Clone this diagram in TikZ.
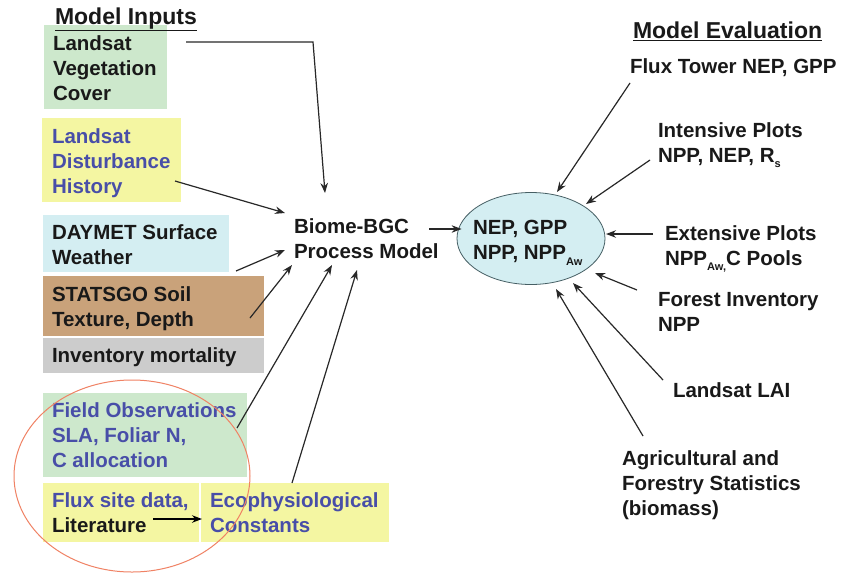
\documentclass[tikz,border=0pt]{standalone}
\usepackage{fontspec}
\setmainfont{Liberation Sans}
\usetikzlibrary{arrows.meta,calc,shapes.geometric}
\definecolor{bgreen}{RGB}{205,232,204}
\definecolor{byellow}{RGB}{244,246,162}
\definecolor{bblue}{RGB}{212,238,242}
\definecolor{bbrown}{RGB}{201,162,122}
\definecolor{bgray}{RGB}{204,204,204}
\definecolor{tblue}{RGB}{72,78,168}
\definecolor{tblack}{RGB}{25,25,25}
\definecolor{ered}{RGB}{240,130,100}
\definecolor{eline}{RGB}{70,95,100}
\definecolor{aline}{RGB}{40,40,40}
\newcommand\sbs[1]{\raisebox{-0.28em}{\fontsize{11}{11}\selectfont #1}}
\begin{document}
\begin{tikzpicture}[x=1pt,y=-1pt,
  box/.style={draw=none, anchor=north west, inner sep=0, outer sep=0},
  txt/.style={anchor=north west, inner sep=0, outer sep=0, align=left,
    font=\fontsize{20.5}{25}\selectfont\bfseries, text=tblack},
  btxt/.style={txt, text=tblue},
  ttl/.style={txt, font=\fontsize{23}{27}\selectfont\bfseries},
  arr/.style={draw=aline, line width=1.2pt, -{Stealth[length=10pt,width=7.5pt]}}]
\useasboundingbox (0,0) rectangle (842,573);
\fill[white] (0,0) rectangle (842,573);

% input boxes
\node[box, fill=bgreen, minimum width=123, minimum height=84] (b1) at (44,25) {};
\node[box, fill=byellow, minimum width=139, minimum height=84] (b2) at (42,118) {};
\node[box, fill=bblue, minimum width=186, minimum height=57] (b3) at (43,215) {};
\node[box, fill=bbrown, minimum width=221, minimum height=60] (b4) at (43,276) {};
\node[box, fill=bgray, minimum width=221, minimum height=35] (b5) at (43,338) {};
\node[box, fill=bgreen, minimum width=204, minimum height=84] (b6) at (43,393) {};
\node[box, fill=byellow, minimum width=156, minimum height=59] (b7) at (43,483) {};
\node[box, fill=byellow, minimum width=188, minimum height=59] (b8) at (201,483) {};

\node[ttl] (tin) at (55,7.5) {\underline{Model Inputs}};
\node[txt] (t1) at (53,35.2) {Landsat\\Vegetation\\Cover};
\node[btxt] (t2) at (52,128.2) {Landsat\\Disturbance\\History};
\node[txt] (t3) at (52,224.2) {DAYMET Surface\\Weather};
\node[txt] (t4) at (52,286.2) {STATSGO Soil\\Texture, Depth};
\node[txt] (t5) at (52,347.2) {Inventory mortality};
\node[btxt] (t6) at (52,402.2) {Field Observations\\SLA, Foliar N,\\C allocation};
\node[txt] (t7) at (52,492.2) {\textcolor{tblue}{Flux site data,}\\Literature};
\node[btxt] (t8) at (210,492.2) {Ecophysiological\\Constants};

% highlight ellipse
\draw[ered, line width=1pt] (132,476) ellipse [x radius=118, y radius=96];

% process model
\node[txt] (bio) at (294,218.2) {Biome-BGC\\Process Model};
\node[ellipse, draw=eline, line width=0.8pt, fill=bblue, minimum width=148, minimum height=92, inner sep=0] (ell) at (531,238.5) {};
\node[txt] (et) at (473,220.2) {NEP, GPP\\NPP, NPP\sbs{Aw}};

% evaluation
\node[ttl] (tev) at (633,21.5) {\underline{Model Evaluation}};
\node[txt] (r1) at (630,58.2) {Flux Tower NEP, GPP};
\node[txt] (r2) at (658,122.2) {Intensive Plots\\NPP, NEP, R\sbs{s}};
\node[txt] (r3) at (665,225.2) {Extensive Plots\\NPP\sbs{Aw,}C Pools};
\node[txt] (r4) at (658,292.2) {Forest Inventory\\NPP};
\node[txt] (r5) at (673,382.2) {Landsat LAI};
\node[txt] (r6) at (622,450.2) {Agricultural and\\Forestry Statistics\\(biomass)};

% input arrows
\draw[arr] ($(b1.north east)+(19,17)$) -- ($(b1.north east)+(146,17)$) -- ($(bio.north west)+(31,-25.2)$);
\draw[arr] ($(b2.north east)+(-6,63)$) -- ($(bio.north west)+(-9,-5.2)$);
\draw[arr] ($(b3.north east)+(7,56)$) -- ($(bio.north west)+(-9,31.8)$);
\draw[arr] ($(b4.north east)+(-14,42)$) -- ($(bio.north west)+(-2,46.8)$);
\draw[arr] ($(b6.north east)+(-10,35)$) -- ($(bio.north west)+(38,46.8)$);
\draw[arr] ($(b8.north west)+(91,0)$) -- ($(bio.north west)+(63,51.8)$);
\draw[arr, draw=black] ($(b7.north west)+(110,36)$) -- ($(b8.north west)+(1,36)$);
\draw[arr] ($(bio.north west)+(135,10.8)$) -- ($(ell.west)+(5,-9.5)$);

% evaluation arrows
\draw[arr] ($(r1.north west)+(0,24.8)$) -- ($(ell.center)+(26,-46.5)$);
\draw[arr] ($(r2.north west)+(-8,37.8)$) -- ($(ell.center)+(55,-34.5)$);
\draw[arr] ($(r3.north west)+(-12,8.8)$) -- ($(ell.center)+(75,-4.5)$);
\draw[arr] ($(r4.north west)+(-21,-2.2)$) -- ($(ell.center)+(64,34.5)$);
\draw[arr] ($(r5.north west)+(-10,-2.2)$) -- ($(ell.center)+(42,44.5)$);
\draw[arr] ($(r6.north west)+(21,-14.2)$) -- ($(ell.center)+(25,50.5)$);
\end{tikzpicture}
\end{document}
